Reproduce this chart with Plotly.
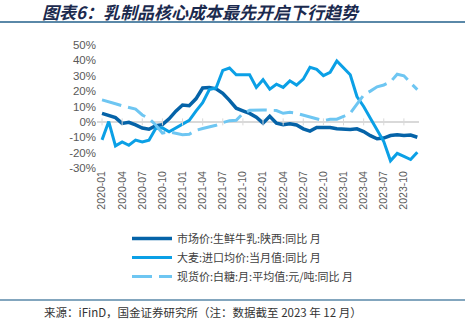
import plotly.graph_objects as go

months = [f"{y}-{m:02d}" for y in range(2020, 2024) for m in range(1, 13)]

milk = [5.5, 4, 2.8, -1, -0.3, -2, -4, -4.8, -2.5, -1.8, 2, 7,
        11, 10.5, 15, 22, 22.3, 21.5, 18.6, 14, 8.9, 7.2, 5.5, 3,
        -0.8, 3.6, -0.8, -1.9, -1.2, -2, -4.5, -6, -3.7, -3.7, -3.7, -4.5,
        -4.8, -5, -4.5, -6.3, -9, -11, -10.5, -8.9, -8.4, -8.8, -8.6, -10]

barley = [-11.7, 0.2, -15.6, -13, -15.2, -11.9, -13, -11.9, -4.3, -3.9, -6.5, -4,
          -1.5, 1, 7, 12.5, 21, 22, 33.5, 35, 30.6, 30.6, 30.6, 22.4,
          27.4, 21.3, 24.5, 22.4, 26.7, 23.9, 27.8, 35.5, 34.2, 30.1, 32.2, 39.6,
          35.3, 30.6, 16.5, 10, 2.4, -5.2, -12.8, -25.3, -20.5, -22.5, -24.5, -19.7]

sugar = [14.3, 12.8, 11.8, 10.5, 9.3, 8.3, 4.5, 2.2, -2, -7.3, -6.5, -7.5,
         -8.4, -8, -5.5, -4.3, -3.3, -2.2, -0.5, 0.8, 1, 5.5, 7.5, 7.8,
         7.8, 7.6, 7.4, 5.6, 6.2, 5.6, 4.5, 3.4, 2.3, 0.8, 1.7, 1.7,
         3.5, 5.6, 11.5, 17.5, 20, 22.8, 24, 26, 31, 30, 25.3, 21]

names = ["市场价:生鲜牛乳:陕西:同比 月", "大麦:进口均价:当月值:同比 月", "现货价:白糖:月:平均值:元/吨:同比 月"]
tick_labels = months[::3]
y_ticks = [50, 40, 30, 20, 10, 0, -10, -20, -30]

title = "图表6：乳制品核心成本最先开启下行趋势"
source = "来源：iFinD，国金证券研究所（注：数据截至 2023 年 12 月）"

W, H = 465, 326
L, R, T, B = 97, 46, 45, 158
pw, ph = W - L - R, H - T - B

def px_x(x):
    return (x - L) / pw

def px_y(y):
    return (H - B - y) / ph

fig = go.Figure()
fig.add_trace(go.Scatter(x=months, y=milk, name=names[0], mode="lines",
                         line=dict(color="#0563a8", width=3.5)))
fig.add_trace(go.Scatter(x=months, y=barley, name=names[1], mode="lines",
                         line=dict(color="#0ba0e6", width=3)))
fig.add_trace(go.Scatter(x=months, y=sugar, name=names[2], mode="lines",
                         line=dict(color="#6ec6f2", width=3, dash="20px,7px")))
# tick marks on zero line
fig.add_trace(go.Scatter(x=tick_labels, y=[0] * len(tick_labels), mode="markers",
                         marker=dict(symbol="line-ns-open", size=5, color="#d9d9d9",
                                     line=dict(width=1, color="#d9d9d9")),
                         showlegend=False, hoverinfo="skip"))

font_main = "Liberation Sans, Noto Sans CJK SC, sans-serif"
fig.update_layout(
    width=W, height=H, margin=dict(l=L, r=R, t=T, b=B),
    plot_bgcolor="white", paper_bgcolor="white",
    font=dict(family=font_main, size=11, color="#595959"),
    xaxis=dict(type="category", range=[-0.75, 47.25], tickmode="array",
               tickvals=tick_labels, ticktext=tick_labels, tickangle=-90,
               showgrid=False, showline=False, zeroline=False, ticks="",
               tickfont=dict(size=10.5, color="#595959")),
    yaxis=dict(range=[-30, 50], tickmode="array", tickvals=y_ticks,
               ticktext=[f"{v}%" for v in y_ticks], showgrid=False,
               zeroline=True, zerolinecolor="#d9d9d9", zerolinewidth=1.5,
               showline=False, ticks="", tickfont=dict(size=11.5, color="#595959")),
    legend=dict(x=px_x(127), y=px_y(224), xanchor="left", yanchor="top",
                font=dict(size=11, color="#404040", family="Noto Sans CJK SC, sans-serif"),
                tracegroupgap=0, itemwidth=40, bgcolor="rgba(0,0,0,0)"),
    showlegend=True,
)
fig.add_annotation(text=f"<b><i>{title}</i></b>", xref="paper", yref="paper",
                   x=px_x(40), y=px_y(11), xanchor="left", yanchor="middle",
                   showarrow=False,
                   font=dict(size=17, color="#1b2a4e", family="Noto Sans CJK SC"))
fig.add_annotation(text=source, xref="paper", yref="paper",
                   x=px_x(42), y=px_y(312), xanchor="left", yanchor="middle",
                   showarrow=False,
                   font=dict(size=11.5, color="#333333", family="Noto Sans CJK SC"))
fig.add_shape(type="line", xref="paper", yref="paper", x0=px_x(0), x1=px_x(W),
              y0=px_y(22), y1=px_y(22), line=dict(color="#5a88a8", width=2))
fig.add_shape(type="line", xref="paper", yref="paper", x0=px_x(0), x1=px_x(W),
              y0=px_y(300), y1=px_y(300), line=dict(color="#5a88a8", width=1.5))

fig.write_html("out.html")
